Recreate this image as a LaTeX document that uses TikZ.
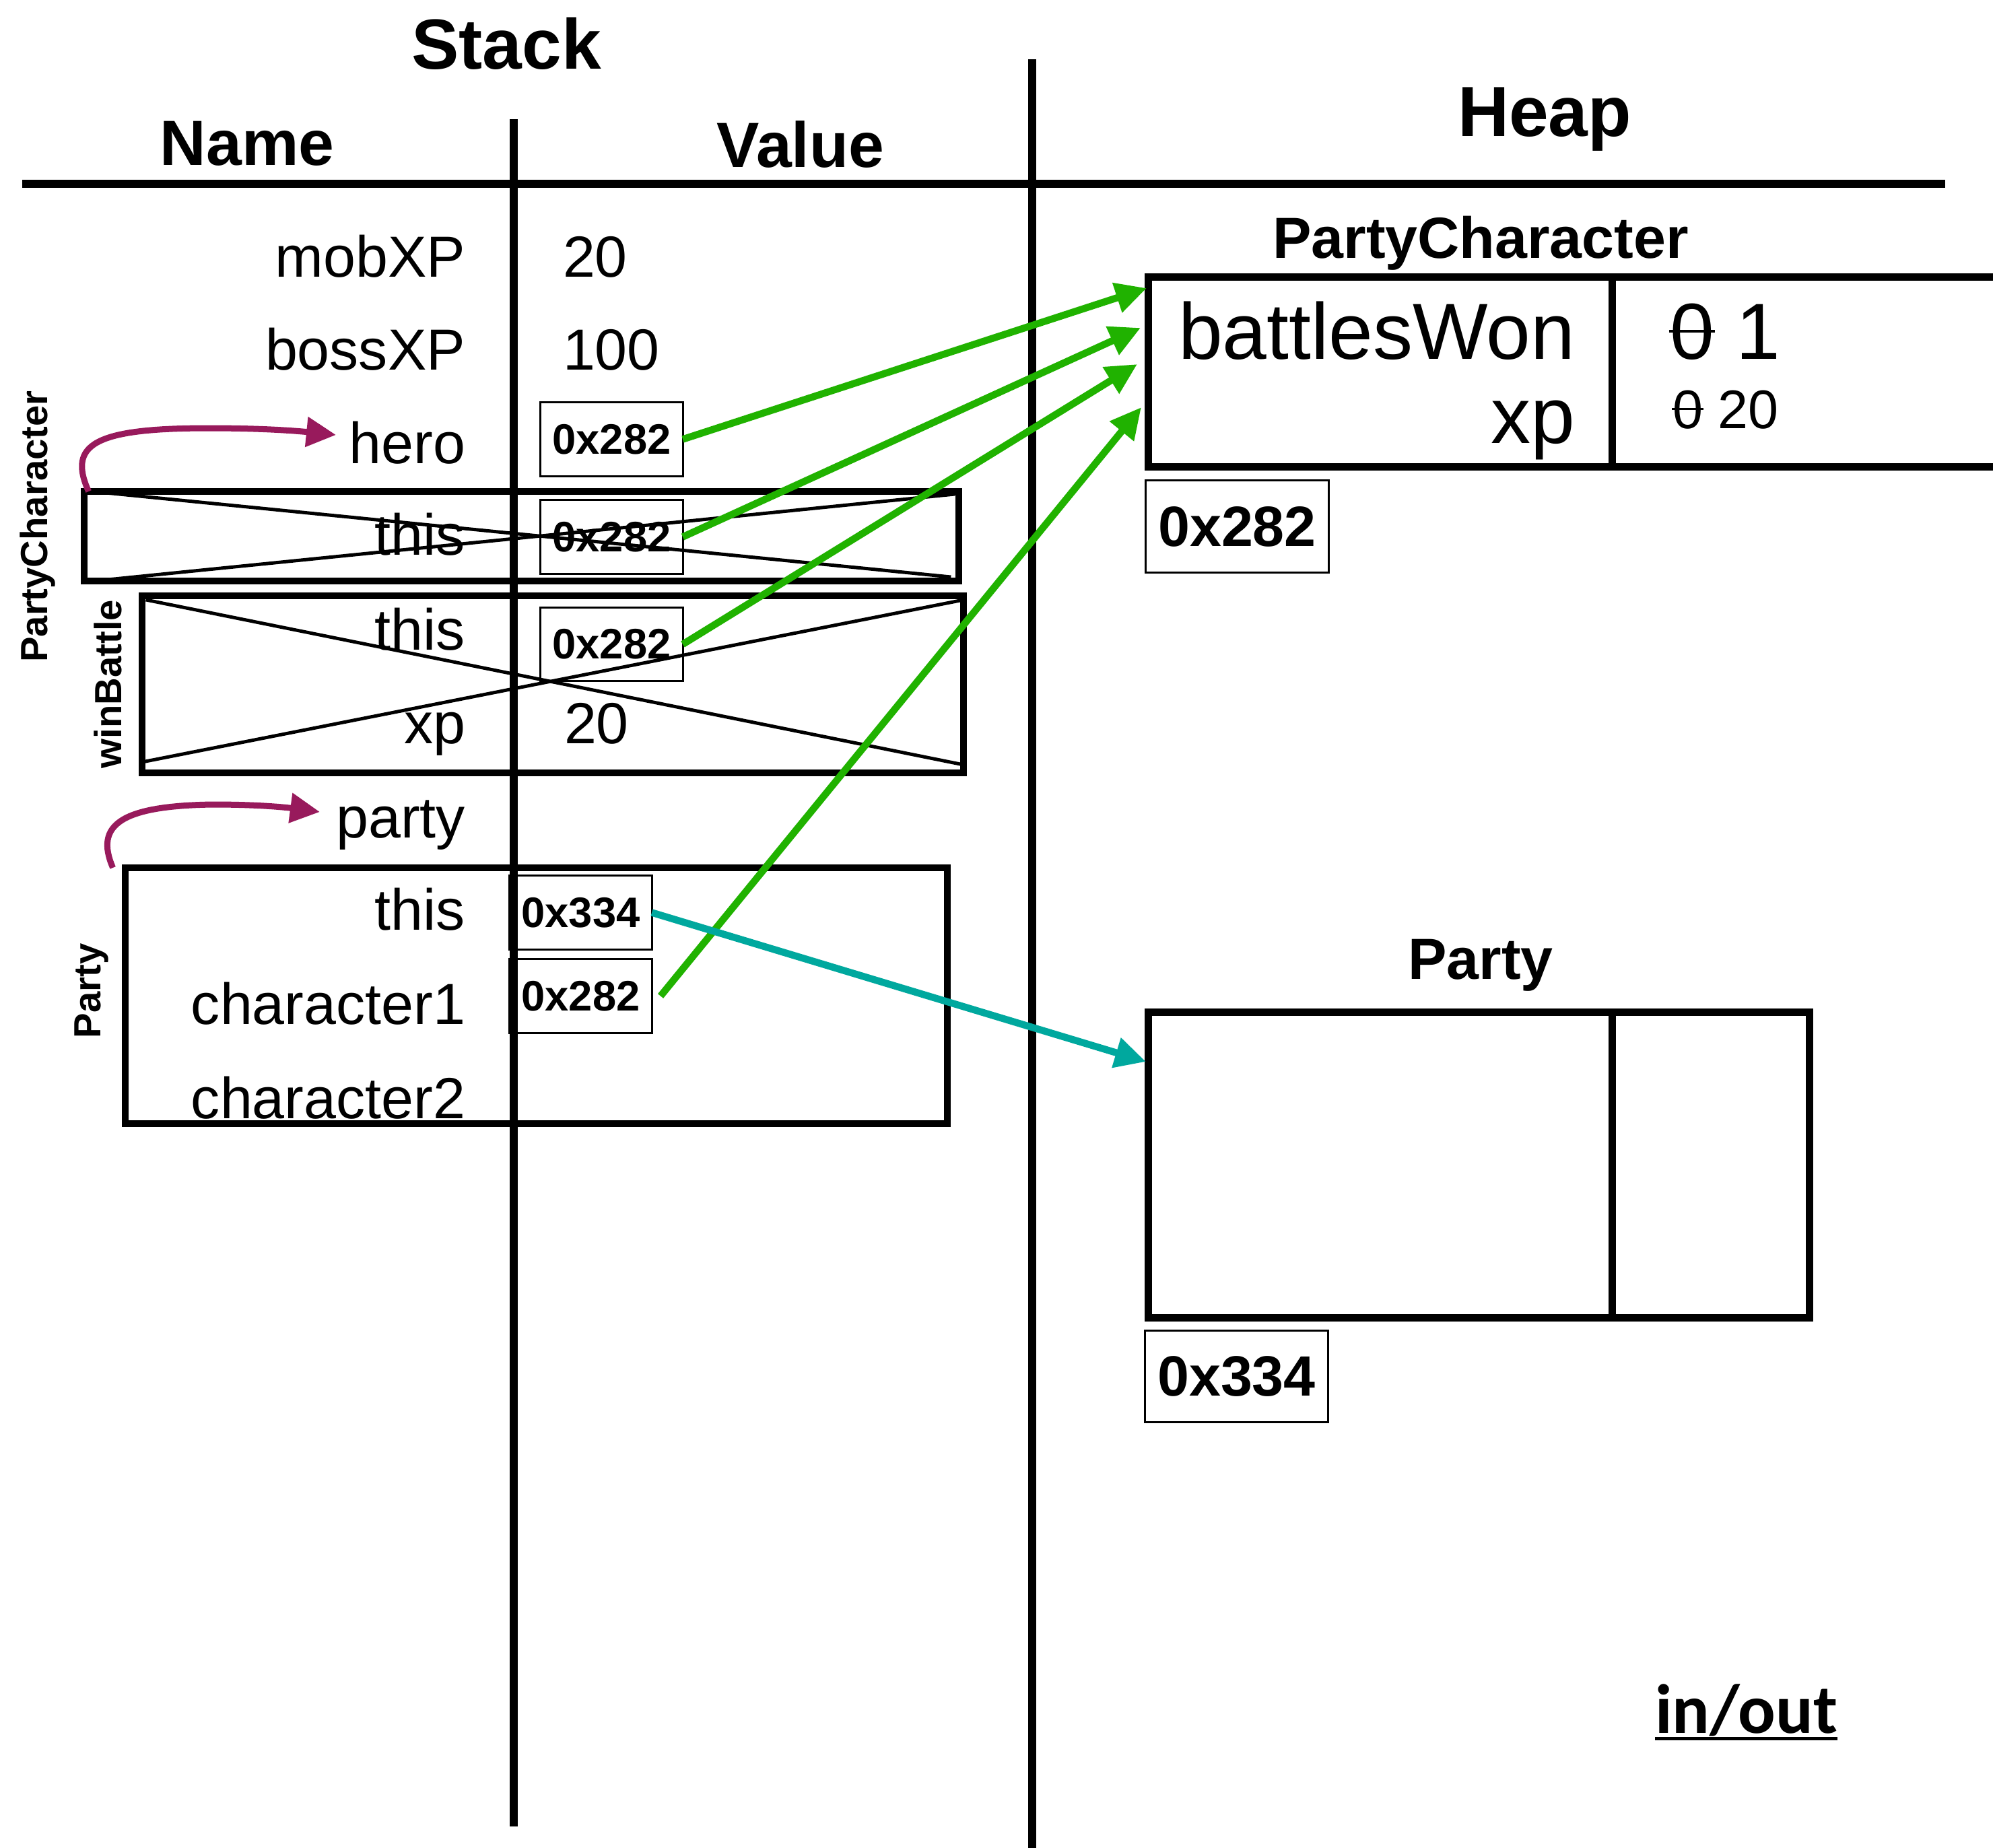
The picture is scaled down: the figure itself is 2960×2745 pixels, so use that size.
\documentclass[tikz,border=0pt]{standalone}
\usepackage{fontspec}
\setmainfont{Liberation Sans}
\newfontfamily\calib{Carlito}
\usetikzlibrary{arrows.meta}
\definecolor{pgreen}{RGB}{32,178,0}
\definecolor{pteal}{RGB}{0,168,158}
\definecolor{ppurple}{RGB}{152,26,92}
\newcommand\fsz[1]{\fontsize{#1}{#1}\selectfont}
\newcommand\strz[1]{\ooalign{#1\cr\hidewidth\rule[0.33em]{0.58em}{0.035em}\hidewidth\cr}}
\begin{document}
\begin{tikzpicture}[x=0.01cm,y=-0.01cm,
  every node/.style={inner sep=0pt, outer sep=0pt},
  titletxt/.style={font=\bfseries\fsz{30pt}, anchor=base},
  colhead/.style={font=\bfseries\fsz{27pt}, anchor=base},
  nm/.style={anchor=base east, font=\fsz{24.5pt}},
  val/.style={anchor=base west, font=\fsz{24.5pt}},
  addr/.style={draw, line width=0.03cm, minimum width=2.11cm, minimum height=1.09cm, font=\bfseries\fsz{18pt}},
  haddr/.style={draw, line width=0.03cm, minimum width=2.72cm, minimum height=1.36cm, font=\bfseries\fsz{24pt}},
  frm/.style={draw, line width=0.1cm},
  hbox/.style={draw, line width=0.11cm},
  axisline/.style={line width=0.12cm},
  xline/.style={line width=0.05cm},
  side/.style={rotate=90, font=\bfseries\fsz{16pt}},
  gptr/.style={draw=pgreen, line width=0.105cm, -{Triangle[length=0.46cm,width=0.44cm,fill=pgreen]}},
  tptr/.style={draw=pteal, line width=0.105cm, -{Triangle[length=0.46cm,width=0.44cm,fill=pteal]}},
  pptr/.style={draw=ppurple, line width=0.09cm, -{Triangle[length=0.44cm,width=0.43cm,fill=ppurple]}},
  htitle/.style={font=\bfseries\fsz{24.5pt}, anchor=base}
]
\path[use as bounding box] (0,0) rectangle (2960,2745);
\clip (0,0) rectangle (2960,2745);

% headings
\node[titletxt] (stk) at (752,102) {Stack};
\node[titletxt] (hp) at (2294,202) {Heap};
\node[colhead] (cn) at (367,245) {Name};
\node[colhead] (cv) at (1189,248) {Value};

% axes
\draw[axisline] (33,273) -- (2889,273);
\draw[axisline] (763,177) -- (763,2713);
\draw[axisline] (1533,88) -- (1533,2745);

% stack frames
\node[frm, minimum width=12.99cm, minimum height=1.33cm] (pcf) at (774.5,796.5) {};
\node[frm, minimum width=12.20cm, minimum height=2.63cm] (wbf) at (821,1016.5) {};
\node[frm, minimum width=12.21cm, minimum height=3.80cm] (ptf) at (796.5,1479) {};
\draw[xline] ([xshift=0.12cm]pcf.north west) -- ([xshift=-0.12cm,yshift=0.06cm]pcf.south east);
\draw[xline] ([xshift=0.15cm]pcf.south west) -- ([xshift=-0.06cm,yshift=-0.04cm]pcf.north east);
\draw[xline] ([xshift=0.06cm,yshift=-0.06cm]wbf.north west) -- ([yshift=0.12cm]wbf.south east);
\draw[xline] ([yshift=0.16cm]wbf.south west) -- ([yshift=-0.06cm]wbf.north east);

% side labels
\node[side] (lpc) at (56,782) {PartyCharacter};
\node[side] (lwb) at (160,1016) {winBattle};
\node[side] (lpt) at (136,1472) {Party};

% stack names
\node[nm] (n1) at (691,411) {mobXP};
\node[nm] (n2) at (691,549) {bossXP};
\node[nm] (n3) at (691,688) {hero};
\node[nm] (n4) at (691,824) {this};
\node[nm] (n5) at (691,965) {this};
\node[nm] (n6) at (691,1104) {xp};
\node[nm] (n7) at (691,1244) {party};
\node[nm] (n8) at (691,1381) {this};
\node[nm] (n9) at (691,1521) {character1};
\node[nm] (n10) at (691,1661) {character2};

% stack values
\node[val] (v1) at (836,411) {20};
\node[val] (v2) at (836,549) {100};
\node[val] (v6) at (838,1104) {20};
\node[addr] (a1) at (908.5,652.5) {0x282};
\node[addr] (a2) at (908.5,797.5) {0x282};
\node[addr] (a3) at (908.5,957) {0x282};
\node[addr] (a4) at (862.5,1355.5) {0x334};
\node[addr] (a5) at (862.5,1479.5) {0x282};

% heap: PartyCharacter
\node[htitle] (hpct) at (2199,383) {PartyCharacter};
\node[hbox, minimum width=12.94cm, minimum height=2.81cm] (hpc) at (2353,552.5) {};
\draw[line width=0.11cm] (2394,412) -- (2394,693);
\node[anchor=base east, font=\fsz{33.6pt}] (bw) at (2339,533) {battlesWon};
\node[anchor=base east, font=\fsz{33.6pt}] (hxp) at (2339,658) {xp};
\node[anchor=base west, font=\fsz{33.6pt}] (bwv) at (2480,533) {\strz{0} 1};
\node[anchor=base west, font=\fsz{23pt}] (xpv) at (2484,636) {\strz{0} 20};
\node[haddr] (h1) at (1837.5,782) {0x282};

% heap: Party
\node[htitle] (hptt) at (2199,1454) {Party};
\node[hbox, minimum width=9.81cm, minimum height=4.53cm] (hpt) at (2196.5,1730.5) {};
\draw[line width=0.11cm] (2394,1498) -- (2394,1957);
\node[haddr] (h2) at (1836.5,2044.5) {0x334};

% in/out
\node[font=\calib\bfseries\fsz{29.5pt}, anchor=base west] (io) at (2458,2574) {in/out};
\draw[line width=0.05cm] ([yshift=-0.08cm]io.base west) -- ([yshift=-0.08cm]io.base east);

% pointer targets
\coordinate (tA) at (1703,428);
\coordinate (tB) at (1694,487);
\coordinate (tC) at (1689,541);
\coordinate (tD) at (1695,605);
\coordinate (tE) at (1702,1577);
\coordinate (ph) at (499,646);
\coordinate (pp) at (475,1206);

% connectors
\draw[gptr] (a1.east) -- (tA);
\draw[gptr] (a2.east) -- (tB);
\draw[gptr] (a3.east) -- (tC);
\draw[gptr] ([xshift=0.13cm]a5.east) -- (tD);
\draw[tptr] (a4.east) -- (tE);
\draw[pptr] ([xshift=0.07cm]pcf.north west) .. controls (100,660) and (140,636) .. (310,636) .. controls (390,636) and (440,640) .. (ph);
\draw[pptr] ([xshift=-0.18cm]ptf.north west) .. controls (140,1225) and (180,1197) .. (316,1195) .. controls (390,1195) and (430,1200) .. (pp);
\end{tikzpicture}
\end{document}
